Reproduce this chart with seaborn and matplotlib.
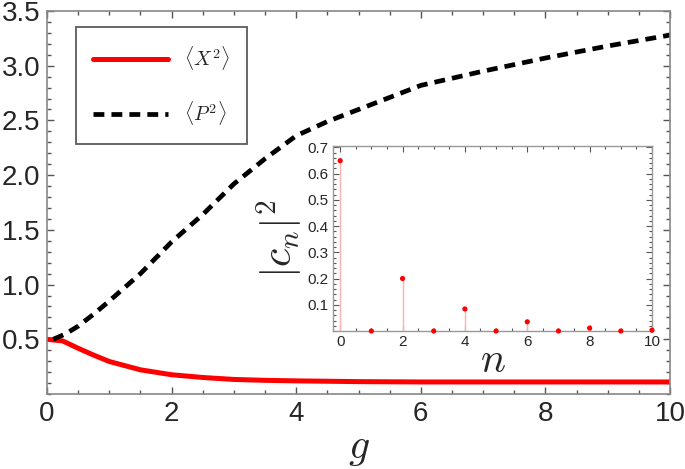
import matplotlib
matplotlib.use("Agg")
import matplotlib.pyplot as plt
from matplotlib.ticker import MultipleLocator
import numpy as np
import pandas as pd
import seaborn as sns

# main panel: <X^2> and <P^2> versus g
g_x = [0, 0.25, 0.5, 0.75, 1, 1.5, 2, 2.5, 3, 3.5, 4, 5, 6, 7, 8, 9, 10]
x2 = [0.50, 0.485, 0.418, 0.355, 0.297, 0.221, 0.176, 0.151, 0.133, 0.125,
      0.120, 0.113, 0.110, 0.110, 0.110, 0.110, 0.110]
g_p = [0.1, 0.3, 0.5, 0.75, 1, 1.5, 2, 2.5, 3, 3.5, 4, 4.5, 5, 6, 7, 8, 9, 10]
p2 = [0.50, 0.55, 0.62, 0.73, 0.85, 1.10, 1.39, 1.64, 1.92, 2.15, 2.36,
      2.49, 2.60, 2.82, 2.95, 3.07, 3.18, 3.28]

# inset: photon-number distribution |c_n|^2
n_vals = list(range(11))
cn2 = [0.649, 0.0, 0.200, 0.0, 0.084, 0.0, 0.035, 0.0, 0.011, 0.0, 0.003]

sns.set_style("ticks")
plt.rcParams["font.family"] = ["Liberation Sans", "DejaVu Sans"]
plt.rcParams["mathtext.fontset"] = "cm"

W, H = 685, 469
fig = plt.figure(figsize=(W / 100, H / 100), dpi=100)
ax = fig.add_axes([47 / W, 1 - 394 / H, (670 - 47) / W, (394 - 11) / H])

df_x = pd.DataFrame({"g": g_x, "v": x2})
df_p = pd.DataFrame({"g": g_p, "v": p2})
sns.lineplot(data=df_x, x="g", y="v", ax=ax, color="#ff0000", lw=3.6,
             label=r"$\langle X^2\rangle$")
sns.lineplot(data=df_p, x="g", y="v", ax=ax, color="black", lw=3.4,
             dashes=False, label=r"$\langle P^2\rangle$")
ax.lines[1].set_dashes((2.3, 1.5))

ax.set_xlim(0, 10)
ax.set_ylim(0, 3.5)
ax.set_xticks([0, 2, 4, 6, 8, 10])
ax.set_yticks([0.5, 1.0, 1.5, 2.0, 2.5, 3.0, 3.5])
ax.set_yticklabels([f"{v:.1f}" for v in [0.5, 1.0, 1.5, 2.0, 2.5, 3.0, 3.5]])
ax.xaxis.set_minor_locator(MultipleLocator(0.5))
ax.yaxis.set_minor_locator(MultipleLocator(0.1))
ax.tick_params(which="both", direction="in", top=True, right=True,
               color="#555555", width=1)
ax.tick_params(which="major", length=5, labelsize=20, pad=5)
ax.tick_params(which="minor", length=3)
for s in ax.spines.values():
    s.set_color("#888888")
    s.set_linewidth(1.2)
ax.set_xlabel(r"$g$", fontsize=30, labelpad=1)
ax.set_ylabel("")

leg = ax.legend(loc="upper left", bbox_to_anchor=(76 / W, 1 - 27 / H),
                bbox_transform=fig.transFigure, fontsize=14.5, frameon=True,
                fancybox=False, handlelength=3.7, handletextpad=0.8,
                labelspacing=1.35, borderpad=0.85, borderaxespad=0)
leg.get_frame().set_edgecolor("#333333")
leg.get_frame().set_linewidth(1.3)

# inset
axi = fig.add_axes([333 / W, 1 - 331 / H, (652 - 333) / W, (331 - 146) / H])
axi.patch.set_alpha(0)
axi.vlines(n_vals, 0, cn2, color="#ffb0b0", lw=1)
sns.scatterplot(x=n_vals, y=cn2, ax=axi, color="#ff0000", s=14,
                edgecolor="none", clip_on=False, zorder=3)
axi.set_xlim(-0.23, 10)
axi.set_ylim(0, 0.705)
axi.set_xticks([0, 2, 4, 6, 8, 10])
axi.set_yticks([0.1, 0.2, 0.3, 0.4, 0.5, 0.6, 0.7])
axi.xaxis.set_minor_locator(MultipleLocator(0.5))
axi.yaxis.set_minor_locator(MultipleLocator(0.02))
axi.tick_params(which="both", direction="in", top=True, right=True,
                color="#555555", width=0.8)
axi.tick_params(which="major", length=4, labelsize=11, pad=3)
axi.tick_params(which="minor", length=2)
for s in axi.spines.values():
    s.set_color("#999999")
    s.set_linewidth(1)
axi.set_xlabel(r"$n$", fontsize=30, labelpad=-6)
axi.set_ylabel(r"$|c_n|^2$", fontsize=30, labelpad=2)

fig.savefig("out.png", dpi=100)
